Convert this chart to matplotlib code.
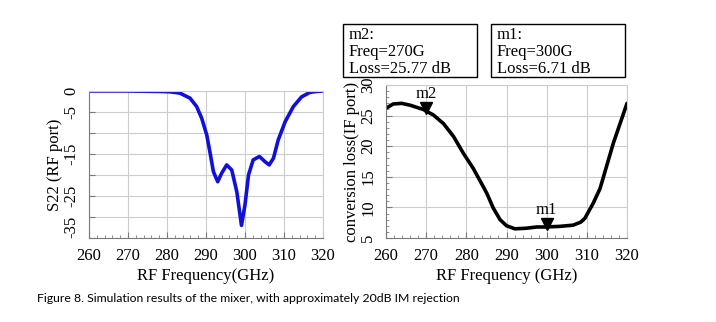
import matplotlib.pyplot as plt
from matplotlib.ticker import MultipleLocator

# S22 at RF port (left)
s22_freq = [260, 270, 278, 280.8, 283.3, 285.9, 287.6, 288.9, 290.2, 291.0, 291.9, 293.0,
            294.0, 295.3, 296.6, 297.9, 299.1, 300, 300.9, 302.1, 303.7, 305.1, 306.2,
            307.3, 308.5, 310.3, 312.4, 314.5, 316.7, 318.5, 320]
s22_db = [0, 0, -0.1, -0.2, -0.5, -1.7, -3.7, -6.5, -10.5, -14.5, -19.2, -21.6,
          -19.6, -17.6, -18.8, -24, -32, -27.1, -20, -16.4, -15.6, -16.8, -17.6,
          -16, -11.7, -7.3, -3.7, -1.4, -0.3, -0.1, 0]

# conversion loss at IF port (right)
cl_freq = [260, 261.8, 263.9, 266, 269.3, 271.8, 274.3, 276.8, 279.3, 281.7, 284.2,
           285.1, 286.7, 288.4, 290.0, 292.1, 295.0, 297.5, 299.8, 303.3, 306.6,
           308.5, 309.5, 311.6, 313.3, 316.6, 320]
cl_db = [26.2, 26.9, 27.0, 26.7, 26.0, 25.1, 23.7, 21.6, 18.8, 16.4, 13.4,
         12.3, 9.9, 8.0, 7.0, 6.5, 6.6, 6.8, 6.8, 6.9, 7.1,
         7.6, 8.2, 10.7, 13.1, 20.5, 27.0]

markers = {'m2': (270, 25.77), 'm1': (300, 6.71)}
box_texts = ['m2:\nFreq=270G\nLoss=25.77 dB', 'm1:\nFreq=300G\nLoss=6.71 dB']
caption = 'Figure 8. Simulation results of the mixer, with approximately 20dB IM rejection'

plt.rcParams['font.family'] = 'Liberation Serif'
plt.rcParams['font.size'] = 12

fig = plt.figure(figsize=(7.16, 3.22), dpi=100)
W, H = 716, 322
ax1 = fig.add_axes([89 / W, 1 - 238 / H, (323 - 89) / W, (238 - 91) / H])
ax2 = fig.add_axes([386 / W, 1 - 238 / H, (627 - 386) / W, (238 - 85) / H])

grid_col = '#cccccc'
spine_col = '#7a7a7a'

ax1.plot(s22_freq, s22_db, color='#1010d8', lw=2.6, solid_capstyle='round')
ax1.set_xlim(260, 320)
ax1.set_ylim(-35, 0)
ax1.set_xticks(range(260, 321, 10))
ax1.set_yticks([0, -5, -10, -15, -20, -25, -30, -35])
ax1.set_yticklabels(['0', '-5', '', '-15', '', '-25', '', '-35'])
ax1.set_xlabel('RF Frequency(GHz)', labelpad=3)
ax1.set_ylabel('S22 (RF port)', labelpad=0)

ax2.plot(cl_freq, cl_db, color='black', lw=2.6, solid_capstyle='round')
ax2.set_xlim(260, 320)
ax2.set_ylim(5, 30)
ax2.set_xticks(range(260, 321, 10))
ax2.set_yticks(range(5, 31, 5))
ax2.set_xlabel('RF Frequency (GHz)', labelpad=3)
ax2.set_ylabel('conversion loss(IF port)', labelpad=0)
ax2.yaxis.set_minor_locator(MultipleLocator(1))

for name, (f, v) in markers.items():
    ax2.plot(f, v + 0.5, marker='v', color='black', ms=8, zorder=5)
    ax2.text(f, v + 1.5, name, ha='center', va='bottom', fontsize=12)

for ax in (ax1, ax2):
    ax.grid(True, color=grid_col, lw=0.8)
    ax.set_axisbelow(True)
    ax.xaxis.set_minor_locator(MultipleLocator(2))
    ax.tick_params(which='both', direction='in', color=spine_col)
    ax.tick_params(axis='x', which='major', length=4, pad=7)
    ax.tick_params(axis='y', which='major', length=4, pad=7)
    ax.tick_params(which='minor', length=2.5)
    for lbl in ax.get_yticklabels():
        lbl.set_rotation(90)
        lbl.set_va('center')
    for s in ax.spines.values():
        s.set_color(grid_col)
    ax.spines['bottom'].set_color(spine_col)
    ax.spines['left'].set_color(spine_col)

# bottom label of the left plot sits above its tick, as in the reference
ax1.get_yticklabels()[-1].set_va('bottom')

box_x = [343, 491]
for bx, txt in zip(box_x, box_texts):
    fig.patches.append(plt.Rectangle((bx / W, 1 - 77 / H), 134 / W, 53 / H,
                                     transform=fig.transFigure, fill=False,
                                     ec='black', lw=1))
    fig.text((bx + 6) / W, 1 - 27 / H, txt, ha='left', va='top',
             fontsize=12, linespacing=1.08)

fig.text(37 / W, 1 - 299 / H, caption, ha='left', va='center',
         fontsize=8.8, family='Lato')

fig.savefig('out.png', dpi=100)
